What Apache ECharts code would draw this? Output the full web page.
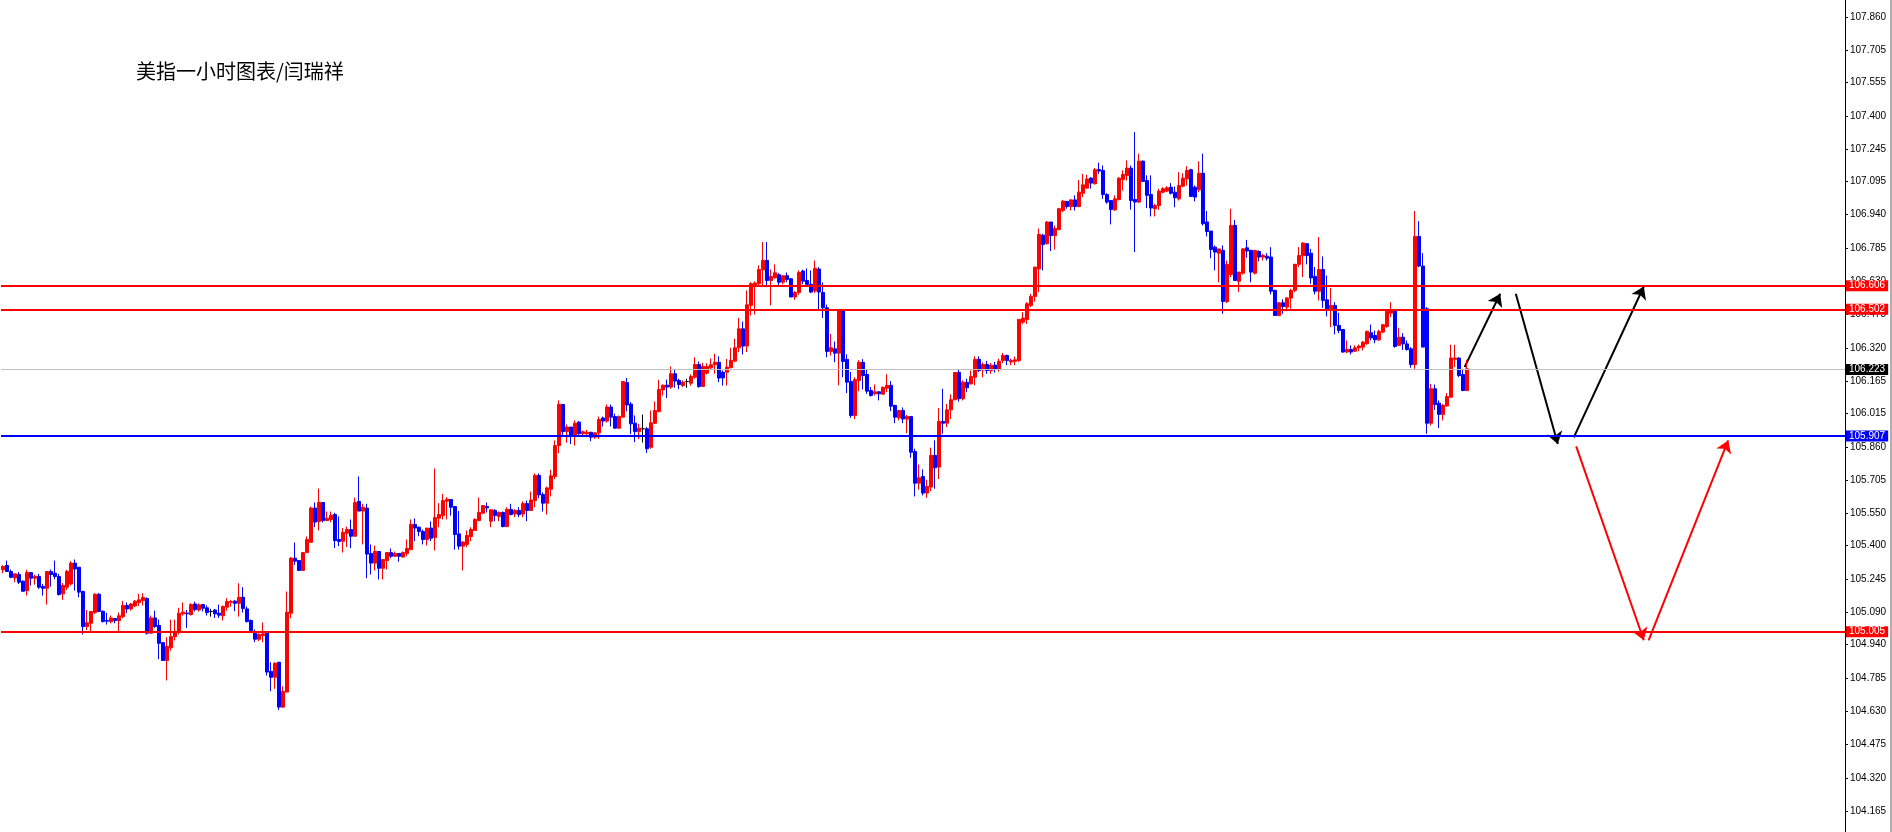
<!DOCTYPE html>
<html><head><meta charset="utf-8">
<script src="https://cdn.jsdelivr.net/npm/echarts@6/dist/echarts.min.js"></script>
<style>html,body{margin:0;padding:0;background:#fff}#c{width:1892px;height:832px}</style>
</head><body><div id="c"></div>
<script>
const chartTitle = '美指一小时图表/闫瑞祥';

const opens = [
105.288,105.308,105.280,105.250,105.266,105.235,105.191,105.275,105.249,105.257,
105.210,105.202,105.280,105.272,105.257,105.176,105.207,105.222,105.319,105.300,
105.187,105.024,105.039,105.089,105.174,105.095,105.052,105.046,105.061,105.052,
105.070,105.122,105.106,105.120,105.136,105.145,105.154,104.993,105.064,105.029,
104.949,104.866,104.925,104.977,105.002,105.083,105.086,105.080,105.129,105.101,
105.126,105.111,105.094,105.101,105.086,105.074,105.114,105.137,105.142,105.132,
105.160,105.106,105.052,104.993,104.965,104.982,104.998,104.815,104.788,104.858,
104.649,104.719,105.086,105.342,105.331,105.285,105.368,105.416,105.575,105.513,
105.601,105.517,105.522,105.545,105.429,105.421,105.458,105.475,105.444,105.606,
105.561,105.575,105.364,105.319,105.373,105.295,105.331,105.368,105.351,105.364,
105.347,105.364,105.382,105.499,105.486,105.466,105.429,105.482,105.438,105.528,
105.540,105.607,105.615,105.582,105.455,105.398,105.406,105.443,105.471,105.517,
105.551,105.582,105.514,105.564,105.536,105.555,105.489,105.569,105.548,105.564,
105.547,105.596,105.564,105.610,105.727,105.638,105.598,105.663,105.722,105.866,
106.057,105.931,105.952,105.913,105.975,105.921,105.921,105.928,105.905,105.925,
105.994,105.980,106.045,106.001,105.947,105.998,106.159,106.059,105.970,105.931,
105.944,105.944,105.858,105.970,106.024,106.125,106.147,106.138,106.200,106.169,
106.145,106.164,106.156,106.184,106.243,106.141,106.203,106.228,106.242,106.253,
106.207,106.207,106.228,106.259,106.321,106.409,106.329,106.518,106.611,106.619,
106.684,106.727,106.634,106.647,106.661,106.626,106.656,106.642,106.557,106.578,
106.678,106.634,106.616,106.585,106.687,106.578,106.507,106.304,106.316,106.296,
106.498,106.267,106.164,106.006,106.169,106.253,106.197,106.122,106.107,106.116,
106.105,106.133,106.146,106.053,105.995,106.029,105.989,106.001,105.838,105.691,
105.722,105.645,105.673,105.820,105.766,105.978,105.970,106.032,106.079,106.206,
106.084,106.160,106.153,106.184,106.267,106.218,106.243,106.215,106.240,106.222,
106.262,106.285,106.255,106.258,106.262,106.440,106.453,106.518,106.560,106.688,
106.845,106.805,106.906,106.843,106.871,106.960,107.002,106.978,107.009,106.978,
107.040,107.064,107.110,107.084,107.150,107.146,107.034,107.006,106.963,107.011,
107.104,107.123,107.157,107.011,106.999,107.189,107.099,107.034,106.968,106.983,
107.045,107.050,107.068,107.045,107.014,107.073,107.107,107.149,107.068,107.056,
107.133,106.906,106.864,106.789,106.761,106.774,106.536,106.662,106.890,106.630,
106.668,106.786,106.774,106.668,106.769,106.743,106.747,106.743,106.588,106.471,
106.530,106.510,106.552,106.588,106.709,106.749,106.805,106.761,106.653,106.584,
106.685,106.544,106.502,106.518,106.425,106.406,106.301,106.313,106.305,106.321,
106.324,106.340,106.391,106.378,106.358,106.394,106.420,106.482,106.498,106.332,
106.370,106.339,106.316,106.243,106.839,106.701,106.502,105.970,106.130,106.063,
106.011,106.050,106.091,106.267,106.273,106.197,106.122
];
const closes = [
105.303,105.280,105.253,105.269,105.230,105.188,105.275,105.249,105.257,105.207,
105.202,105.280,105.266,105.257,105.173,105.215,105.281,105.319,105.292,105.184,
105.024,105.042,105.094,105.174,105.094,105.047,105.049,105.064,105.052,105.074,
105.122,105.106,105.129,105.142,105.148,105.159,104.993,105.064,105.024,104.946,
104.866,104.931,104.977,105.002,105.086,105.091,105.083,105.126,105.103,105.125,
105.109,105.089,105.094,105.083,105.077,105.117,105.140,105.140,105.132,105.160,
105.108,105.047,105.005,104.965,104.987,104.990,104.812,104.788,104.853,104.649,
104.722,105.091,105.342,105.328,105.285,105.368,105.429,105.575,105.510,105.601,
105.517,105.528,105.542,105.424,105.420,105.462,105.475,105.444,105.601,105.561,
105.579,105.361,105.319,105.373,105.295,105.336,105.368,105.351,105.364,105.351,
105.368,105.387,105.499,105.482,105.466,105.429,105.482,105.435,105.531,105.545,
105.610,105.616,105.579,105.452,105.398,105.417,105.448,105.475,105.522,105.555,
105.587,105.576,105.567,105.541,105.555,105.489,105.569,105.545,105.564,105.545,
105.596,105.564,105.613,105.727,105.637,105.598,105.669,105.725,105.866,106.057,
105.931,105.952,105.913,105.970,105.921,105.930,105.928,105.905,105.925,105.987,
105.980,106.045,105.998,105.947,106.001,106.164,106.055,105.967,105.931,105.947,
105.944,105.851,105.972,106.029,106.127,106.147,106.138,106.200,106.166,106.150,
106.161,106.164,106.187,106.243,106.141,106.234,106.234,106.242,106.253,106.180,
106.181,106.231,106.262,106.321,106.409,106.329,106.521,106.619,106.622,106.685,
106.727,106.634,106.653,106.670,106.626,106.656,106.639,106.557,106.578,106.671,
106.631,106.616,106.580,106.690,106.580,106.507,106.304,106.321,106.296,106.498,
106.257,106.161,106.006,106.173,106.253,106.192,106.119,106.099,106.116,106.107,
106.136,106.146,106.049,105.998,106.029,105.990,106.001,105.835,105.691,105.716,
105.645,105.676,105.820,105.763,105.978,105.970,106.032,106.079,106.206,106.084,
106.161,106.135,106.187,106.267,106.215,106.243,106.215,106.240,106.222,106.258,
106.285,106.262,106.262,106.265,106.453,106.459,106.526,106.560,106.696,106.848,
106.802,106.906,106.843,106.876,106.968,107.003,106.978,107.009,106.978,107.045,
107.079,107.106,107.087,107.149,107.143,107.034,106.999,106.964,107.014,107.110,
107.127,107.157,107.006,106.999,107.189,107.095,107.030,106.971,106.983,107.050,
107.061,107.065,107.040,107.019,107.076,107.110,107.146,107.025,107.022,107.133,
106.898,106.862,106.778,106.766,106.781,106.536,106.709,106.890,106.634,106.673,
106.781,106.771,106.673,106.774,106.743,106.750,106.738,106.584,106.471,106.530,
106.513,106.553,106.588,106.709,106.750,106.808,106.750,106.646,106.584,106.685,
106.541,106.502,106.518,106.425,106.401,106.301,106.313,106.301,106.321,106.329,
106.347,106.397,106.367,106.358,106.397,106.428,106.491,106.499,106.327,106.370,
106.339,106.313,106.243,106.839,106.701,106.324,105.970,106.130,106.057,106.011,
106.053,106.094,106.273,106.273,106.192,106.122,106.223
];
const highs = [
105.309,105.331,105.289,105.269,105.277,105.238,105.288,105.275,105.266,105.269,
105.222,105.280,105.289,105.331,105.269,105.226,105.288,105.328,105.336,105.300,
105.191,105.101,105.094,105.179,105.179,105.098,105.088,105.075,105.064,105.089,
105.143,105.136,105.134,105.148,105.176,105.179,105.160,105.075,105.098,105.056,
104.949,104.974,105.056,105.056,105.111,105.136,105.101,105.132,105.140,105.132,
105.129,105.122,105.106,105.106,105.126,105.122,105.156,105.148,105.148,105.225,
105.207,105.117,105.057,105.010,104.993,105.043,104.998,104.858,104.858,104.858,
104.746,105.187,105.347,105.415,105.331,105.368,105.443,105.582,105.601,105.666,
105.601,105.559,105.559,105.553,105.536,105.482,105.489,105.522,105.624,105.722,
105.595,105.595,105.406,105.401,105.373,105.336,105.368,105.387,105.373,105.364,
105.373,105.429,105.522,105.527,105.489,105.475,105.482,105.513,105.759,105.598,
105.641,105.626,105.615,105.582,105.561,105.421,105.471,105.486,105.528,105.624,
105.587,105.601,105.570,105.570,105.559,105.559,105.579,105.595,105.570,105.579,
105.606,105.610,105.652,105.736,105.736,105.648,105.675,105.753,105.890,106.076,
106.060,105.964,105.952,105.983,105.980,105.936,105.939,105.928,105.928,106.001,
106.001,106.057,106.057,106.014,106.006,106.164,106.180,106.068,106.006,105.967,
106.010,105.952,106.029,106.071,106.172,106.150,106.173,106.234,106.219,106.177,
106.169,106.177,106.197,106.277,106.257,106.251,106.249,106.271,106.293,106.281,
106.215,106.269,106.321,106.363,106.460,106.443,106.588,106.626,106.630,106.704,
106.813,106.813,106.685,106.709,106.668,106.659,106.671,106.645,106.585,106.681,
106.684,106.690,106.681,106.727,106.696,106.625,106.522,106.386,106.350,106.498,
106.498,106.290,106.208,106.184,106.263,106.268,106.220,106.138,106.150,106.119,
106.141,106.198,106.166,106.053,106.032,106.043,106.009,106.001,105.851,105.778,
105.755,105.707,105.856,105.890,106.040,106.130,106.060,106.104,106.206,106.218,
106.169,106.177,106.215,106.281,106.281,106.253,106.260,106.250,106.255,106.270,
106.297,106.289,106.270,106.280,106.453,106.487,106.533,106.572,106.699,106.876,
106.851,106.910,106.906,106.890,106.972,107.009,107.002,107.012,107.030,107.102,
107.130,107.126,107.115,107.157,107.182,107.169,107.040,107.006,107.030,107.115,
107.146,107.193,107.169,107.324,107.224,107.193,107.123,107.123,106.991,107.061,
107.068,107.073,107.087,107.071,107.138,107.133,107.166,107.154,107.076,107.189,
107.224,106.957,106.864,106.797,106.781,106.797,106.727,106.968,106.916,106.673,
106.785,106.823,106.777,106.777,106.774,106.758,106.761,106.789,106.591,106.533,
106.546,106.556,106.595,106.712,106.789,106.812,106.808,106.781,106.696,106.836,
106.746,106.657,106.600,106.533,106.484,106.406,106.355,106.332,106.332,106.336,
106.352,106.401,106.429,106.401,106.405,106.432,106.494,106.533,106.498,106.414,
106.389,106.355,106.324,106.957,106.910,106.761,106.510,106.153,106.150,106.076,
106.060,106.110,106.335,106.335,106.277,106.223,106.265
];
const lows = [
105.272,105.280,105.249,105.230,105.222,105.188,105.168,105.215,105.219,105.199,
105.168,105.126,105.210,105.244,105.168,105.148,105.194,105.215,105.191,105.160,
104.987,105.008,104.993,105.083,105.091,105.043,105.033,105.039,105.039,105.002,
105.063,105.086,105.098,105.114,105.120,105.122,104.987,104.993,105.018,104.872,
104.866,104.773,104.912,104.959,104.987,105.075,105.018,105.075,105.094,105.094,
105.094,105.075,105.070,105.064,105.064,105.052,105.098,105.117,105.095,105.070,
105.089,105.043,105.001,104.951,104.956,104.951,104.796,104.723,104.734,104.636,
104.646,104.719,105.063,105.311,105.285,105.285,105.368,105.415,105.486,105.471,
105.508,105.514,105.509,105.389,105.398,105.368,105.393,105.389,105.444,105.561,
105.406,105.249,105.266,105.285,105.243,105.243,105.289,105.342,105.347,105.326,
105.347,105.351,105.382,105.421,105.444,105.406,105.401,105.421,105.378,105.486,
105.522,105.522,105.540,105.382,105.382,105.285,105.393,105.421,105.471,105.514,
105.551,105.555,105.486,105.514,105.514,105.486,105.486,105.541,105.533,105.533,
105.533,105.514,105.564,105.579,105.621,105.559,105.545,105.629,105.710,105.831,
105.913,105.879,105.873,105.866,105.916,105.910,105.905,105.886,105.897,105.897,
105.955,105.973,105.955,105.944,105.944,105.998,106.025,105.920,105.882,105.896,
105.880,105.831,105.851,105.967,106.021,106.099,106.087,106.130,106.135,106.128,
106.138,106.135,106.145,106.177,106.135,106.138,106.197,106.223,106.200,106.161,
106.145,106.145,106.228,106.254,106.301,106.290,106.301,106.471,106.476,106.611,
106.603,106.603,106.518,106.642,106.611,106.616,106.626,106.557,106.544,106.567,
106.616,106.611,106.575,106.575,106.492,106.460,106.277,106.285,106.254,106.146,
106.184,106.110,105.995,105.989,106.119,106.127,106.107,106.094,106.099,106.076,
106.104,106.115,106.026,105.970,105.983,105.970,105.924,105.809,105.629,105.660,
105.634,105.623,105.654,105.665,105.710,105.921,105.952,105.990,106.079,106.070,
106.076,106.115,106.150,106.146,106.208,106.184,106.200,106.200,106.205,106.210,
106.250,106.240,106.240,106.240,106.255,106.432,106.432,106.510,106.536,106.580,
106.681,106.802,106.771,106.778,106.867,106.952,106.968,106.960,106.960,106.975,
107.022,107.061,107.061,107.081,107.130,107.014,106.991,106.895,106.957,107.006,
107.053,107.099,106.964,106.766,106.994,107.092,106.971,106.932,106.932,106.963,
107.040,107.045,107.034,106.975,107.006,107.068,107.076,107.022,107.002,107.045,
106.890,106.839,106.738,106.681,106.626,106.479,106.529,106.650,106.634,106.580,
106.662,106.740,106.626,106.662,106.723,106.727,106.727,106.569,106.471,106.468,
106.479,106.491,106.502,106.580,106.697,106.650,106.709,106.619,106.569,106.541,
106.507,106.467,106.417,106.383,106.389,106.298,106.296,106.290,106.301,106.305,
106.308,106.336,106.355,106.342,106.352,106.389,106.414,106.464,106.321,106.329,
106.311,106.308,106.228,106.223,106.696,106.324,105.921,105.960,106.032,105.947,
105.983,106.048,106.091,106.231,106.184,106.119,106.119
];

const tickLabels = ['107.860','107.705','107.555','107.400','107.245','107.095','106.940','106.785',
  '106.630','106.475','106.320','106.165','106.015','105.860','105.705','105.550','105.400',
  '105.245','105.090','104.940','104.785','104.630','104.475','104.320','104.165'];

const resistanceLevels = [106.606, 106.502];
const supportLevels = [105.907];
const lowerLevels = [105.005];
const currentPrice = 106.223;

// projected path arrows: [startIndex, startPrice, endIndex, endPrice]
const blackArrows = [
  [365.4, 106.231, 374.3, 106.572],
  [378.2, 106.572, 388.7, 105.873],
  [392.7, 105.904, 410.2, 106.606]
];
const redArrows = [
  [393.3, 105.862, 410.2, 104.960],
  [411.4, 104.960, 431.3, 105.890]
];

const slotCount = 461;
const yMin = 104.068, yMax = 107.939;

const chart = echarts.init(document.getElementById('c'), null, {renderer: 'canvas', width: 1892, height: 832});
const cats = Array.from({length: slotCount}, (_, i) => String(i));
const BLACK = '#000000';
const candles = opens.map((o, i) => {
  const v = [o, closes[i], lows[i], highs[i]];
  if (o === closes[i]) {
    return {value: v, itemStyle: {color: BLACK, color0: BLACK, borderColor: BLACK, borderColor0: BLACK}};
  }
  return v;
});
const tickValues = tickLabels.map(Number);
const axisFont = 'Liberation Sans';

function levelLine(v, color, width) {
  return {
    yAxis: v,
    lineStyle: {color: color, width: width, type: 'solid'},
    label: {
      show: true, position: 'end', distance: 1,
      formatter: v.toFixed(3), color: '#fff', backgroundColor: color,
      fontSize: 10, fontFamily: axisFont, lineHeight: 11, padding: [0, 3, 0, 3]
    }
  };
}
const markData = []
  .concat(resistanceLevels.map(v => levelLine(v, '#ff0000', 2)))
  .concat(supportLevels.map(v => levelLine(v, '#0000ff', 2)))
  .concat(lowerLevels.map(v => levelLine(v, '#ff0000', 2)));
const cur = levelLine(currentPrice, '#c0c0c0', 1);
cur.label.backgroundColor = '#000';
markData.push(cur);

function arrowItems(list, color) {
  return list.map(a => ({coords: [[a[0], a[1]], [a[2], a[3]]], lineStyle: {color: color}}));
}

chart.setOption({
  animation: false,
  backgroundColor: '#ffffff',
  title: {
    text: chartTitle, left: 131, top: 56,
    textStyle: {fontSize: 20, fontWeight: 'normal', color: '#000', fontFamily: 'Noto Sans CJK SC'}
  },
  graphic: [{
    type: 'rect', right: 0, top: 0, silent: true,
    shape: {width: 2, height: 832}, style: {fill: '#b0b0b0'}
  }],
  grid: {left: 1, right: 47, top: 0, bottom: 0, containLabel: false},
  xAxis: [
    {type: 'category', data: cats, boundaryGap: true, show: false},
    {type: 'value', min: -0.5, max: slotCount - 0.5, show: false}
  ],
  yAxis: {
    type: 'value', position: 'right', min: yMin, max: yMax, scale: true,
    splitLine: {show: false},
    axisLine: {show: true, onZero: false, lineStyle: {color: '#000', width: 1}},
    axisTick: {show: true, length: 3, inside: false, customValues: tickValues, lineStyle: {color: '#000'}},
    axisLabel: {
      show: true, customValues: tickValues, margin: 5, fontSize: 10, fontFamily: axisFont, color: '#000',
      formatter: v => v.toFixed(3)
    }
  },
  series: [
    {
      type: 'candlestick', xAxisIndex: 0, yAxisIndex: 0,
      data: candles, barWidth: 3,
      itemStyle: {color: '#ff0000', color0: '#0000ff', borderColor: '#ff0000', borderColor0: '#0000ff', borderWidth: 1},
      markLine: {silent: true, symbol: ['none', 'none'], animation: false, data: markData}
    },
    {
      type: 'lines', coordinateSystem: 'cartesian2d', xAxisIndex: 1, yAxisIndex: 0,
      symbol: ['none', 'arrow'], symbolSize: 12, silent: true,
      lineStyle: {width: 2, opacity: 1},
      data: arrowItems(blackArrows, '#000000').concat(arrowItems(redArrows, '#ff0000'))
    }
  ]
});
</script>
</body></html>
